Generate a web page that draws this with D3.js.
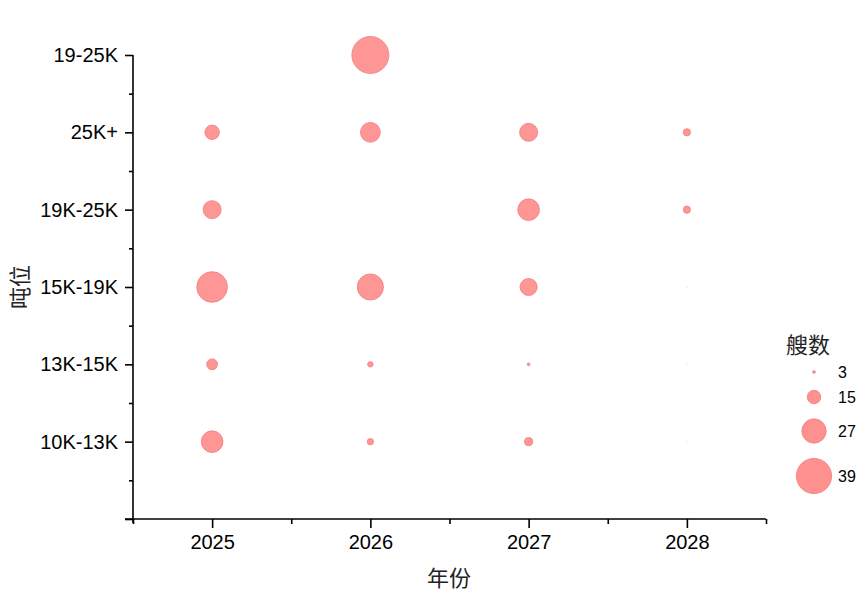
<!DOCTYPE html>
<html><head><meta charset="utf-8">
<script src="https://cdn.jsdelivr.net/npm/d3@7/dist/d3.min.js"></script>
<style>
body{margin:0;background:#fff;}
svg{display:block;}
</style></head>
<body><svg id="c" width="865" height="600"></svg>
<script>
const years = [2025, 2026, 2027, 2028];
const categories = ["10K-13K", "13K-15K", "15K-19K", "19K-25K", "25K+", "19-25K"];
// ships count per category (rows) for each year (columns)
const counts = {
  "10K-13K": [24, 7, 9, 1],
  "13K-15K": [12, 6, 3, 1],
  "15K-19K": [34, 29, 19, 1],
  "19K-25K": [20, 0, 24, 8],
  "25K+":    [16, 22, 20, 8],
  "19-25K":  [0, 41, 0, 0]
};
const legendValues = [3, 15, 27, 39];

const svg = d3.select("#c");
const x = d3.scaleLinear().domain([2024.5, 2028.5]).range([133, 766]);
const y = d3.scaleLinear().domain([0, 6]).range([519, 55]);
const r = d3.scaleLinear().domain([0, 39]).range([0, 17.6]);

const fill = "#ff9090", stroke = "#f07c7c";
const font = "'Liberation Sans', Arial, sans-serif";
const cjk = "'Noto Sans CJK SC', sans-serif";

// data points
const pts = [];
categories.forEach((c, i) => years.forEach((yr, j) => {
  if (counts[c][j] > 0) pts.push({c, i: i + 1, yr, v: counts[c][j]});
}));
svg.append("g").selectAll("circle").data(pts).join("circle")
  .attr("cx", d => x(d.yr)).attr("cy", d => y(d.i))
  .attr("r", d => r(d.v))
  .attr("fill", fill).attr("fill-opacity", 0.95)
  .attr("stroke", stroke).attr("stroke-width", d => d.v <= 1 ? 0.4 : 0.8)
  .attr("opacity", d => d.v <= 1 ? 0.35 : 1);

// x axis
const xg = svg.append("g").attr("transform", "translate(0,519)");
xg.call(d3.axisBottom(x).tickValues(years).tickFormat(d3.format("d")).tickSize(9).tickPadding(7))
  .call(g => g.select(".domain").remove());
xg.append("g").call(d3.axisBottom(x).tickValues([2024.5, 2025.5, 2026.5, 2027.5, 2028.5]).tickFormat("").tickSize(5))
  .call(g => g.select(".domain").remove());
xg.append("line").attr("x1", 125).attr("x2", 766).attr("stroke", "#000").attr("stroke-width", 1.6);
xg.selectAll("line").attr("stroke", "#000").attr("stroke-width", 1.6);
xg.selectAll("text").attr("font-family", font).attr("font-size", 20).attr("fill", "#000");

// y axis
const yg = svg.append("g").attr("transform", "translate(133,0)");
yg.call(d3.axisLeft(y).tickValues([0, 1, 2, 3, 4, 5, 6]).tickFormat(d => d === 0 ? "" : categories[d - 1]).tickSize(8).tickPadding(7))
  .call(g => g.select(".domain").remove());
yg.append("g").call(d3.axisLeft(y).tickValues([0.5, 1.5, 2.5, 3.5, 4.5, 5.5]).tickFormat("").tickSize(4))
  .call(g => g.select(".domain").remove());
yg.append("line").attr("y1", 55).attr("y2", 523).attr("stroke", "#000").attr("stroke-width", 1.6);
yg.selectAll("line").attr("stroke", "#000").attr("stroke-width", 1.6);
yg.selectAll("text").attr("font-family", font).attr("font-size", 20).attr("fill", "#000");

// axis titles
svg.append("text").attr("x", 449).attr("y", 586).attr("text-anchor", "middle")
  .attr("font-family", cjk).attr("font-size", 22).attr("fill", "#222").text("年份");
svg.append("text").attr("transform", "translate(28,287) rotate(-90)").attr("text-anchor", "middle")
  .attr("font-family", cjk).attr("font-size", 22).attr("fill", "#222").text("吨位");

// legend
svg.append("text").attr("x", 808).attr("y", 353).attr("text-anchor", "middle")
  .attr("font-family", cjk).attr("font-size", 22).attr("fill", "#222").text("艘数");
const ly = [372, 397, 431, 476];
const lg = svg.append("g").selectAll("g").data(legendValues).join("g")
  .attr("transform", (d, i) => `translate(814,${ly[i]})`);
lg.append("circle").attr("r", d => r(d)).attr("fill", fill).attr("stroke", stroke).attr("stroke-width", 0.8);
lg.append("text").attr("x", 24).attr("dy", "0.35em").attr("font-family", font).attr("font-size", 16)
  .attr("fill", "#000").text(d => d);
</script></body></html>
